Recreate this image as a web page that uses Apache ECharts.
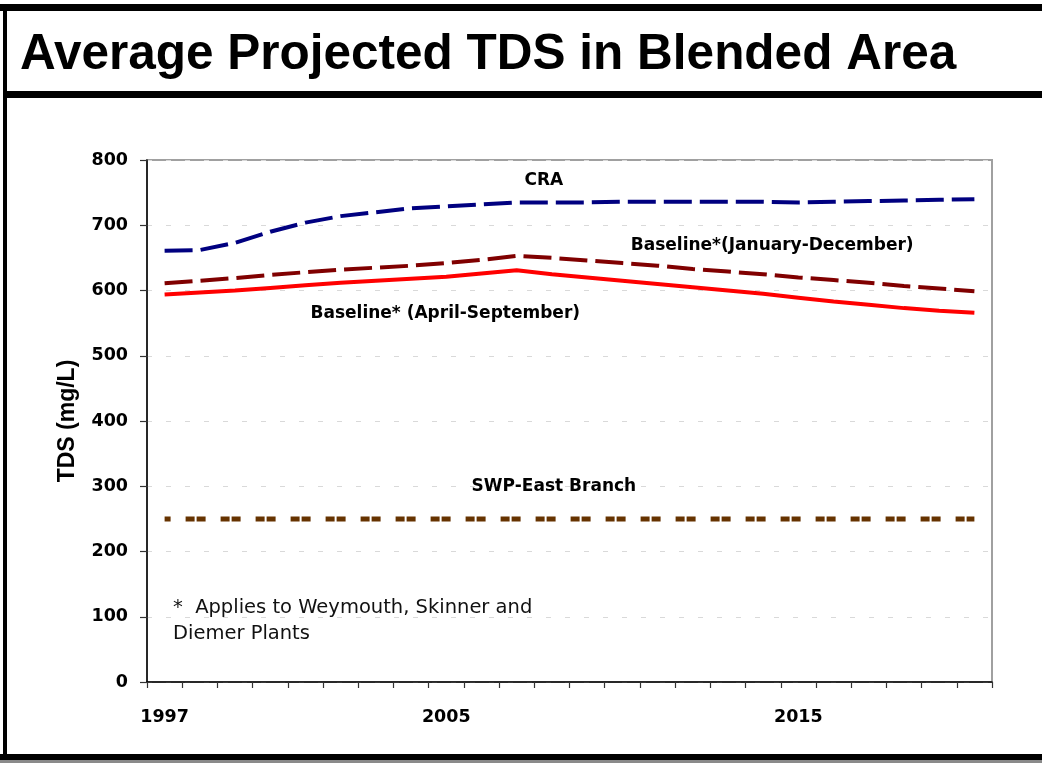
<!DOCTYPE html>
<html>
<head>
<meta charset="utf-8">
<title>Average Projected TDS in Blended Area</title>
<script src="https://cdn.jsdelivr.net/npm/echarts@6/dist/echarts.min.js"></script>
<style>
  html, body { margin: 0; padding: 0; background: #fff; }
  #chart { width: 1042px; height: 763px; }
</style>
</head>
<body>
<div id="chart"></div>
<script>
/* data */
const years = ['1997', '1998', '1999', '2000', '2001', '2002', '2003', '2004', '2005', '2006', '2007', '2008',
  '2009', '2010', '2011', '2012', '2013', '2014', '2015', '2016', '2017', '2018', '2019', '2020'];
const yearLabels = ['1997', '2005', '2015'];
const craValues = [661, 662, 673, 690, 704, 714, 720, 726, 729, 732, 735, 735,
  735, 736, 736, 736, 736, 736, 735, 736, 737, 738, 739, 740];
const janDecValues = [611, 615, 619, 624, 628, 632, 635, 638, 642, 647, 653, 650,
  646, 642, 638, 633, 629, 625, 620, 616, 612, 607, 603, 599];
const aprSepValues = [594, 597, 600, 604, 608, 612, 615, 618, 621, 626, 631, 625,
  620, 615, 610, 605, 600, 595, 589, 583, 578, 573, 569, 566];
const swpValues = [250, 250, 250, 250, 250, 250, 250, 250, 250, 250, 250, 250,
  250, 250, 250, 250, 250, 250, 250, 250, 250, 250, 250, 250];

const BOLD = 'bold';
const ARIAL = '"Liberation Sans", Arial, sans-serif';
const WIDE = '"DejaVu Sans", sans-serif';

/* put the series name next to one point of the line */
function withLabel(values, idx, text, position, distance, dx) {
  return values.map((v, i) => {
    if (i !== idx) return v;
    return {
      value: v,
      label: {
        show: true,
        position: position,
        distance: distance,
        offset: [dx, 0],
        formatter: text,
        color: '#000',
        fontFamily: WIDE,
        fontWeight: BOLD,
        fontSize: 17
      }
    };
  });
}

/* common line settings: invisible symbols so the one label can show */
function lineSeries(name, data, lineStyle, z) {
  return {
    name: name,
    type: 'line',
    data: data,
    symbol: 'circle',
    symbolSize: 0,
    showSymbol: true,
    showAllSymbol: true,
    emphasis: { disabled: true },
    lineStyle: lineStyle,
    z: z
  };
}

const chart = echarts.init(document.getElementById('chart'), null, { renderer: 'canvas' });

const option = {
  animation: false,
  backgroundColor: '#fff',
  grid: {
    left: 147,
    right: 50,
    top: 160,
    bottom: 81,
    show: true,
    borderColor: '#a0a0a0',
    borderWidth: 2,
    backgroundColor: 'transparent'
  },
  xAxis: {
    type: 'category',
    data: years,
    boundaryGap: true,
    axisLine: { lineStyle: { color: '#000', width: 1.5 } },
    axisTick: { show: true, interval: 0, length: 6, lineStyle: { color: '#333', width: 1.2 } },
    axisLabel: {
      interval: (i, v) => yearLabels.includes(v),
      margin: 26,
      color: '#000',
      fontFamily: WIDE,
      fontWeight: BOLD,
      fontSize: 17.5
    },
    splitLine: { show: false }
  },
  yAxis: {
    type: 'value',
    min: 0,
    max: 800,
    interval: 100,
    name: 'TDS (mg/L)',
    nameLocation: 'middle',
    nameRotate: 90,
    nameGap: 68,
    nameTextStyle: { color: '#000', fontFamily: ARIAL, fontWeight: BOLD, fontSize: 23 },
    axisLine: { show: true, lineStyle: { color: '#000', width: 1.5 } },
    axisTick: { show: true, length: 7, lineStyle: { color: '#333', width: 1.2 } },
    axisLabel: {
      margin: 19,
      color: '#000',
      fontFamily: WIDE,
      fontWeight: BOLD,
      fontSize: 17.5
    },
    splitLine: { show: true, lineStyle: { color: '#d9d9d9', width: 1, type: [5, 14] } }
  },
  series: [
    lineSeries('CRA', withLabel(craValues, 11, 'CRA', 'top', 13, -8),
      { color: '#000080', width: 4, type: [28, 8] }, 3),
    lineSeries('Baseline*(January-December)',
      withLabel(janDecValues, 17, 'Baseline*(January-December)', 'top', 20, 9),
      { color: '#800000', width: 4, type: [28, 8] }, 3),
    lineSeries('Baseline* (April-September)',
      withLabel(aprSepValues, 8, 'Baseline* (April-September)', 'bottom', 28, -1),
      { color: '#ff0000', width: 4 }, 4),
    lineSeries('SWP-East Branch', withLabel(swpValues, 11, 'SWP-East Branch', 'top', 24, 2),
      { color: '#663300', width: 5, type: [9, 2, 9, 15], dashOffset: 14 }, 3)
  ],
  graphic: [
    /* slide frame */
    { type: 'rect', shape: { x: 0, y: 4, width: 1042, height: 7 }, style: { fill: '#000' }, silent: true },
    { type: 'rect', shape: { x: 3, y: 4, width: 4, height: 756 }, style: { fill: '#000' }, silent: true },
    { type: 'rect', shape: { x: 3, y: 91, width: 1039, height: 7 }, style: { fill: '#000' }, silent: true },
    { type: 'rect', shape: { x: 0, y: 754, width: 1042, height: 6 }, style: { fill: '#000' }, silent: true },
    { type: 'rect', shape: { x: 0, y: 760, width: 1042, height: 3 }, style: { fill: '#8a8a8a' }, silent: true },
    {
      type: 'text',
      left: 20,
      top: 30,
      style: {
        text: 'Average Projected TDS in Blended Area',
        fill: '#000',
        font: 'bold 49.5px "Liberation Sans", Arial, sans-serif'
      }
    },
    /* footnote */
    {
      type: 'text',
      left: 173,
      top: 595,
      style: {
        text: '*  Applies to Weymouth, Skinner and\nDiemer Plants',
        fill: '#111',
        font: '19.5px "DejaVu Sans", sans-serif',
        lineHeight: 26
      }
    }
  ]
};

chart.setOption(option);
</script>
</body>
</html>
